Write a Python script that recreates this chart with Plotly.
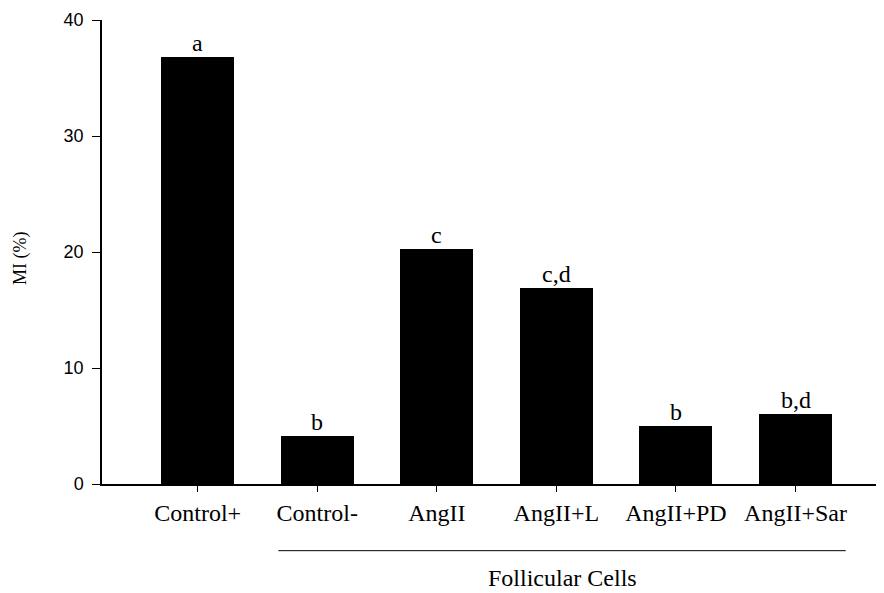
import plotly.graph_objects as go

categories = ["Control+", "Control-", "AngII", "AngII+L", "AngII+PD", "AngII+Sar"]
mi_values = [36.8, 4.1, 20.3, 16.9, 5.0, 6.0]
sig_letters = ["a", "b", "c", "c,d", "b", "b,d"]
y_ticks = [0, 10, 20, 30, 40]
group_label = "Follicular Cells"
y_title = "MI (%)"

serif = "Liberation Serif, Times New Roman, serif"
sans = "Liberation Sans, Arial, sans-serif"

fig = go.Figure()
fig.add_trace(go.Bar(
    x=list(range(len(categories))), y=mi_values,
    width=0.61, marker=dict(color="black", line=dict(width=0)),
    showlegend=False, hoverinfo="skip",
))

for i, (v, t) in enumerate(zip(mi_values, sig_letters)):
    fig.add_annotation(x=i, y=v, text=t, showarrow=False, yanchor="bottom",
                       yshift=-1, font=dict(family=serif, size=24, color="black"))

fig.add_annotation(xref="paper", yref="paper", x=-0.105, y=0.487, text=y_title,
                   textangle=-90, showarrow=False, xanchor="center", yanchor="middle",
                   font=dict(family=serif, size=18, color="black"))

fig.add_shape(type="line", xref="x", yref="paper", x0=0.675, x1=5.42,
              y0=-0.1437, y1=-0.1437, line=dict(color="black", width=1))
fig.add_annotation(xref="x", yref="paper", x=(0.675 + 5.42) / 2, y=-0.2026,
                   text=group_label, showarrow=False, xanchor="center", yanchor="middle",
                   font=dict(family=serif, size=24, color="black"))

fig.update_layout(
    width=876, height=585,
    margin=dict(l=94, r=0, t=12, b=109),
    paper_bgcolor="white", plot_bgcolor="white",
    bargap=0,
)
fig.update_xaxes(
    range=[-0.80, 5.74], tickmode="array", tickvals=list(range(len(categories))),
    ticktext=categories, ticks="outside", ticklen=6, tickwidth=1, tickcolor="black",
    showline=True, linecolor="black", linewidth=1.5, showgrid=False, zeroline=False,
    tickfont=dict(family=serif, size=24, color="black"),
)
fig.update_yaxes(
    range=[0, 40], tickmode="array", tickvals=y_ticks, ticks="outside", ticklen=8,
    tickwidth=1, tickcolor="black", showline=True, linecolor="black", linewidth=1.5,
    showgrid=False, zeroline=False, ticklabelstandoff=5,
    tickfont=dict(family=sans, size=18, color="black"),
)

fig.write_html("out.html")
